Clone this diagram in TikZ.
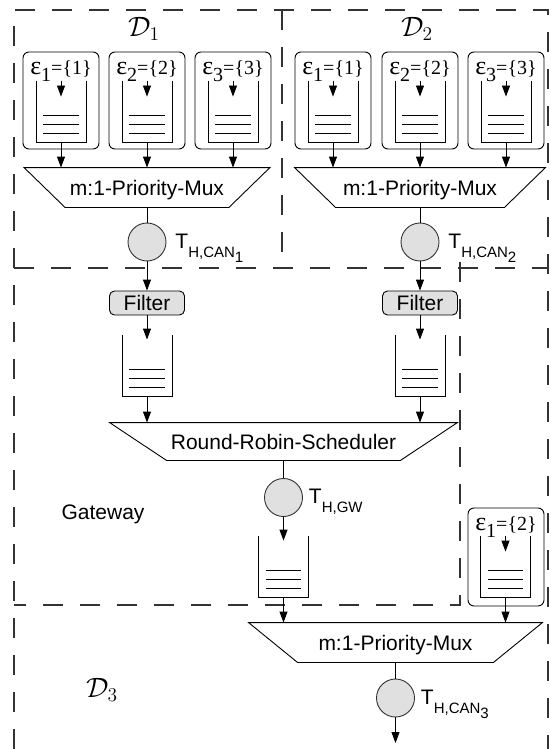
\documentclass[tikz,border=0pt]{standalone}
\usepackage{graphicx}
\usepackage[no-math]{fontspec}
\setmainfont{Liberation Sans}
\newfontfamily\serifeps{Liberation Serif}
\usetikzlibrary{arrows.meta}

\tikzstyle{fuente}= [rectangle,draw,black,rounded corners=6pt,minimum width=76pt,minimum height=97pt]
\tikzstyle{cola}= [rectangle,minimum width=49pt,minimum height=61pt,inner sep=0pt]
\tikzstyle{mux}= [rectangle,minimum height=39pt,inner sep=0pt,text depth=0pt]
\tikzstyle{filtro}= [rectangle,draw,black,rounded corners=5pt,fill=black!12,minimum width=75pt,minimum height=24pt,inner sep=0pt]
\tikzstyle{servidor}= [circle,draw,black!80,fill=black!12,minimum size=38pt,inner sep=0pt]
\tikzstyle{etiq}= [anchor=base,inner sep=0pt,font=\serifeps\fontsize{20}{22}\selectfont]
\tikzstyle{tlabel}= [anchor=base west,inner sep=0pt]
\tikzstyle{dominio}= [inner sep=0pt]
\tikzstyle{flecha}= [-{Triangle[length=11pt,width=8pt]}]
\tikzstyle{limite}= [black!80,dash pattern=on 20pt off 17pt,line width=1.1pt]

\newcommand{\conj}[2]{{\fontsize{26}{28}\selectfont ε}\raisebox{-7pt}{#1}=\{#2\}}
\newcommand{\tiempo}[1]{T\raisebox{-9pt}{\fontsize{15}{17}\selectfont #1}}
\newcommand{\dom}[1]{\scalebox{1.35}{$\mathcal{D}_{#1}$}}

% queue: open box with three lines
\newcommand{\dibujacola}[1]{%
  \draw (#1.north west) -- (#1.south west) -- (#1.south east) -- (#1.north east);
  \foreach \h in {9,18,27}
    \draw ([xshift=7pt,yshift=\h pt]#1.south west) -- ([xshift=-7pt,yshift=\h pt]#1.south east);
}
% trapezium under a node
\newcommand{\dibujamux}[2]{%
  \draw (#1.north west) -- (#1.north east) -- ([xshift=-#2]#1.south east) -- ([xshift=#2]#1.south west) -- cycle;
}

\begin{document}
\begin{tikzpicture}[x=1pt,y=-1pt,font=\fontsize{21}{25}\selectfont,line width=0.9pt]
	\useasboundingbox (0,0) rectangle (551,749);

	% domains
	\draw[limite] (14,749) -- (14,10) -- (548,10) -- (548,749);
	\draw[limite] (282,10) -- (282,268);
	\draw[limite] (14,268) -- (548,268);
	\draw[limite] (460,262) -- (460,605) -- (14,605);

	\node (d1) at (144,29) [dominio] {\dom{1}};
	\node (d2) at (417,29) [dominio] {\dom{2}};
	\node (d3) at (102,690) [dominio] {\dom{3}};
	\node (gw) at (103,514) {Gateway};

	% sources of D1 and D2
	\foreach \x/\n/\e in {61/11/1,147/12/2,233/13/3,333/21/1,420/22/2,506/23/3}{
		\node (f\n) at (\x,100.5) [fuente] {};
		\node (e\n) at (\x,74.5) [etiq] {\conj{\e}{\e}};
		\node (c\n) at (\x,111.5) [cola] {};
		\dibujacola{c\n}
		\draw[flecha] (c\n.north) -- ([yshift=-16pt]c\n.north);
	}

	\node (mux1) at (147,187.5) [mux,minimum width=245pt] {m:1-Priority-Mux};
	\dibujamux{mux1}{41pt}
	\node (mux2) at (420,187.5) [mux,minimum width=250pt] {m:1-Priority-Mux};
	\dibujamux{mux2}{41pt}

	\foreach \n in {11,12,13}
		\draw[flecha] (c\n.south) -- (c\n.south |- mux1.north);
	\foreach \n in {21,22,23}
		\draw[flecha] (c\n.south) -- (c\n.south |- mux2.north);

	\node (t1) at (147,242) [servidor] {};
	\node (t2) at (420,242) [servidor] {};
	\node (lt1) at ([xshift=28pt,yshift=-6pt]t1.center) [tlabel] {\tiempo{H,CAN\raisebox{-5pt}{1}}};
	\node (lt2) at ([xshift=28pt,yshift=-6pt]t2.center) [tlabel] {\tiempo{H,CAN\raisebox{-5pt}{2}}};
	\draw (mux1.south) -- (t1);
	\draw (mux2.south) -- (t2);

	% gateway
	\node (fil1) at (147,303) [filtro] {Filter};
	\node (fil2) at (420,303) [filtro] {Filter};
	\draw[flecha] (t1) -- (fil1);
	\draw[flecha] (t2) -- (fil2);

	\node (g1) at (147,365.5) [cola] {};
	\node (g2) at (420,365.5) [cola] {};
	\dibujacola{g1}
	\dibujacola{g2}
	\draw[flecha] (fil1) -- ([yshift=-5pt]g1.north);
	\draw[flecha] (fil2) -- ([yshift=-5pt]g2.north);

	\node (rr) at (283.5,441.5) [mux,minimum width=347pt,minimum height=37pt] {Round-Robin-Scheduler};
	\dibujamux{rr}{57pt}
	\draw[flecha] (g1.south) -- (g1.south |- rr.north);
	\draw[flecha] (g2.south) -- (g2.south |- rr.north);

	\node (tgw) at (283.5,497.5) [servidor] {};
	\node (ltgw) at ([xshift=25pt,yshift=-6pt]tgw.center) [tlabel] {\tiempo{H,GW}};
	\draw (rr.south) -- (tgw);

	\node (g3) at (283.5,566.5) [cola] {};
	\dibujacola{g3}
	\draw[flecha] (tgw) -- ([yshift=-5pt]g3.north);

	% D3
	\node (f31) at (506,557) [fuente,minimum height=98pt] {};
	\node (e31) at (506,530.5) [etiq] {\conj{1}{2}};
	\node (c31) at (505.5,566.5) [cola] {};
	\dibujacola{c31}
	\draw[flecha] (c31.north) -- ([yshift=-16pt]c31.north);

	\node (mux3) at (395.5,642.5) [mux,minimum width=293pt] {m:1-Priority-Mux};
	\dibujamux{mux3}{49pt}
	\draw[flecha] (g3.south) -- (g3.south |- mux3.north);
	\draw[flecha] (c31.south) -- (c31.south |- mux3.north);

	\node (t3) at (395.5,698) [servidor] {};
	\node (lt3) at ([xshift=25pt,yshift=-6pt]t3.center) [tlabel] {\tiempo{H,CAN\raisebox{-5pt}{3}}};
	\coordinate (salida) at (395.5,743);
	\draw (mux3.south) -- (t3);
	\draw[flecha] (t3) -- (salida);

\end{tikzpicture}
\end{document}
